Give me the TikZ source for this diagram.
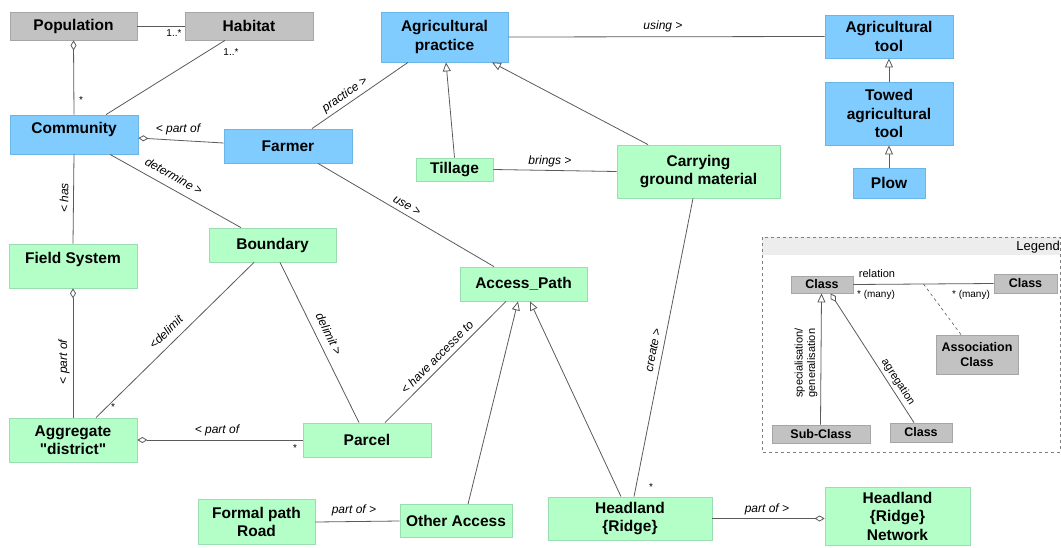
\documentclass[tikz,border=0pt]{standalone}
\usepackage{fontspec}
\setmainfont{Liberation Sans}[Ligatures=TeXOff]
\usetikzlibrary{arrows.meta}
\definecolor{cblue}{HTML}{80CCFF}
\definecolor{cblueb}{HTML}{6CB6E6}
\definecolor{cgreen}{HTML}{B4FFC8}
\definecolor{cgreenb}{HTML}{9ADDB0}
\definecolor{cgray}{HTML}{C2C2C2}
\definecolor{cgrayb}{HTML}{A6A6A6}
\definecolor{lnk}{HTML}{5A5A5A}
\tikzset{
 cls/.style={rectangle, draw, line width=0.8pt, inner sep=0pt, align=center,
   font=\fontsize{15.5}{18.5}\selectfont\bfseries},
 sz/.style 2 args={minimum width=#1pt, minimum height=#2pt},
 bluec/.style={cls, fill=cblue, draw=cblueb},
 greenc/.style={cls, fill=cgreen, draw=cgreenb},
 grayc/.style={cls, fill=cgray, draw=cgrayb},
 lgc/.style={grayc, font=\fontsize{12.5}{15}\selectfont\bfseries},
 conn/.style={draw=lnk, line width=0.8pt},
 gen/.style={conn, -{Triangle[open, length=9pt, width=8pt]}},
 agg/.style={conn, {Diamond[open, length=10pt, width=6pt]}-},
 rl/.style={font=\fontsize{12}{14}\selectfont\itshape, inner sep=0pt},
 mult/.style={font=\fontsize{10}{12}\selectfont, inner sep=0pt},
 lgt/.style={font=\fontsize{11}{12.5}\selectfont, inner sep=0pt, align=center},
}
\begin{document}
\begin{tikzpicture}[x=1pt, y=-1pt]
\useasboundingbox (0,0) rectangle (1061,547);
% ---------- legend ----------
\fill[white] (762,237) rectangle (1060,452);
\fill[black!7] (762,237) rectangle (1060,255);
\draw[gray, dashed, line width=0.7pt] (762,237) rectangle (1060,452);
\node[font=\fontsize{13}{15}\selectfont, anchor=east, inner sep=0pt] (legt) at (1060,247) {Legend};
\node[lgc, sz={62}{17}] (lc1) at (822,284.5) {Class};
\node[lgc, sz={63}{19}] (lc2) at (1025.5,283.5) {Class};
\node[lgc, sz={82}{39}] (lassoc) at (977,354.5) {Association\\Class};
\node[lgc, sz={98}{18}] (lsub) at (821,434) {Sub-Class};
\node[lgc, sz={62}{19}] (lc3) at (921,432.5) {Class};
\draw[conn] (lc1.east) -- (lc2.west) coordinate[pos=0.5] (rmid);
\draw[conn, dashed, line width=0.6pt] (rmid) -- ([xshift=-16pt]lassoc.north);
\draw[gen] ([xshift=-0.5pt]lsub.north) -- ([xshift=-0.5pt]lc1.south);
\draw[agg] ([xshift=8.5pt]lc1.south) -- ([xshift=-7pt]lc3.north);
\node[lgt] (lrel) at (877,274) {relation};
\node[mult] (lm1) at (876,295) {* (many)};
\node[mult] (lm2) at (971,295) {* (many)};
\node[lgt, rotate=90] (lspec) at (806,363) {specialisation/\\generalisation};
\node[lgt, rotate=-57] (lagg) at (898,382) {agregation};
% ---------- classes ----------
\node[grayc, sz={127}{28}] (pop) at (73.5,26) {Population};
\node[grayc, sz={128}{28}] (hab) at (249,26) {Habitat};
\node[bluec, sz={128}{39}, text height=18pt, text depth=21pt] (comm) at (74,134.5) {Community};
\node[bluec, sz={128}{34}] (farmer) at (288,146) {Farmer};
\node[bluec, sz={127}{50}] (agp) at (444.5,37) {Agricultural\\practice};
\node[bluec, sz={128}{43}] (agt) at (889,36.5) {Agricultural\\tool};
\node[bluec, sz={128}{63}] (towed) at (889,113.5) {Towed\\agricultural\\tool};
\node[bluec, sz={72}{30}] (plow) at (889,183) {Plow};
\node[greenc, sz={77}{23}] (till) at (454.5,169.5) {Tillage};
\node[greenc, sz={163}{53}] (carry) at (698.5,171.5) {Carrying\\ground material};
\node[greenc, sz={128}{44}, text height=19pt, text depth=25pt] (field) at (73,266) {Field System};
\node[greenc, sz={127}{34}] (bound) at (272.5,245) {Boundary};
\node[greenc, sz={128}{44}] (aggr) at (73,440) {Aggregate\\"district"};
\node[greenc, sz={128}{34}] (parcel) at (367,440) {Parcel};
\node[greenc, sz={127}{34}] (access) at (523.5,284) {Access\_Path};
\node[greenc, sz={117}{45}] (formal) at (256.5,522) {Formal path\\Road};
\node[greenc, sz={112}{33}] (other) at (456,521) {Other Access};
\node[greenc, sz={164}{43}] (head) at (630,518.5) {Headland\\\{Ridge\}};
\node[greenc, sz={145}{58}] (net) at (897.5,516) {Headland\\\{Ridge\}\\Network};
% ---------- connectors ----------
\draw[conn] (pop.east) -- (hab.west);
\draw[agg] (pop.south) -- (comm.north);
\draw[conn] ([xshift=-24pt]hab.south) -- ([xshift=32pt]comm.north);
\draw[agg] ([yshift=-3.5pt]comm.east) -- ([yshift=3pt]farmer.west);
\draw[conn] (comm.south) -- (field.north);
\draw[conn] ([xshift=36pt]comm.south) -- ([xshift=-31.5pt]bound.north);
\draw[conn] ([xshift=24pt]farmer.north) -- ([xshift=-36.5pt]agp.south);
\draw[conn] ([xshift=30pt]farmer.south) -- ([xshift=-29.5pt]access.north);
\draw[conn] (agp.east) -- (agt.west);
\draw[gen] (till.north) -- ([xshift=1.5pt]agp.south);
\draw[gen] ([xshift=-50.5pt]carry.north) -- ([xshift=47.5pt]agp.south);
\draw[conn] (till.east) -- (carry.west);
\draw[gen] (towed.north) -- (agt.south);
\draw[gen] (plow.north) -- (towed.south);
\draw[agg] (field.south) -- (aggr.north);
\draw[conn] ([xshift=-18.5pt]bound.south) -- ([xshift=23pt]aggr.north);
\draw[conn] ([xshift=7.5pt]bound.south) -- ([xshift=-8pt]parcel.north);
\draw[agg] (aggr.east) -- (parcel.west);
\draw[conn] ([xshift=18pt]parcel.north) -- ([xshift=-17.5pt]access.south);
\draw[gen] ([xshift=12pt]other.north) -- ([xshift=-5.5pt]access.south);
\draw[gen] ([xshift=-9pt]head.north) -- ([xshift=6.5pt]access.south);
\draw[conn] ([xshift=-5.5pt]carry.south) -- ([xshift=4pt]head.north);
\draw[conn] (formal.east) -- (other.west);
\draw[agg] ([yshift=-2.5pt]net.west) -- (head.east);
% ---------- labels ----------
\node[mult] (m1) at (174,33) {1..*};
\node[mult] (m2) at (231,52) {1..*};
\node[mult] (m3) at (81,100) {*};
\node[rl] (t1) at (178,129) {< part of};
\node[rl, rotate=90] (t2) at (64,198) {< has};
\node[rl, rotate=-29.5] (t3) at (174,176) {determine >};
\node[rl, rotate=35] (t4) at (345,95) {practice >};
\node[rl, rotate=-30.6] (t5) at (407,206) {use >};
\node[rl] (t6) at (663,26) {using >};
\node[rl] (t7) at (550,161) {brings >};
\node[rl, rotate=90] (t8) at (64,362) {< part of};
\node[rl, rotate=44.6] (t9) at (166,332) {<delimit};
\node[mult] (m4) at (113,407) {*};
\node[rl, rotate=-63.9] (t10) at (329,334) {delimit >};
\node[rl] (t11) at (217,430) {< part of};
\node[mult] (m5) at (295,448) {*};
\node[rl, rotate=45.2] (t12) at (437,357) {< have accesse to};
\node[rl, rotate=78.8] (t13) at (653,350) {create >};
\node[mult] (m6) at (651,487) {*};
\node[rl] (t14) at (354,510) {part of >};
\node[rl] (t15) at (767,509) {part of >};
\end{tikzpicture}
\end{document}
